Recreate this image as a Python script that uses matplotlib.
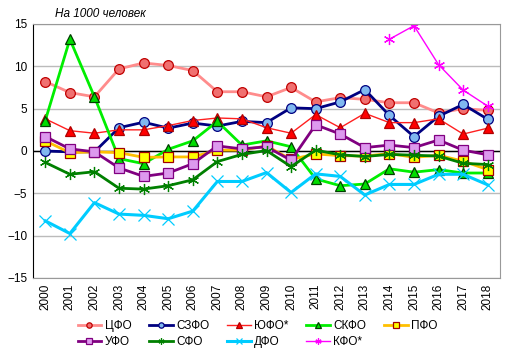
import numpy as np
import matplotlib
matplotlib.use("Agg")
import matplotlib.pyplot as plt

plt.rcParams['font.family'] = ['Liberation Sans', 'DejaVu Sans']
plt.rcParams['font.size'] = 8.5

years = list(range(2000, 2019))

cfo = [8.2, 6.9, 6.4, 9.7, 10.4, 10.1, 9.5, 7.0, 7.0, 6.4, 7.5, 5.8, 6.3, 6.1, 5.7, 5.7, 4.5, 5.0, 4.8]
szfo = [0.0, -0.1, -0.1, 2.75, 3.4, 2.7, 3.3, 2.95, 3.5, 3.35, 5.1, 5.0, 5.8, 7.25, 4.2, 1.7, 4.1, 5.5, 3.75]
yufo = [3.8, 2.4, 2.1, 2.5, 2.5, 3.0, 3.6, 3.9, 3.8, 2.75, 2.1, 4.3, 2.75, 4.45, 3.35, 3.35, 3.8, 2.0, 2.7]
skfo = [3.6, 13.2, 6.4, -0.9, -1.5, 0.2, 1.2, 3.5, 0.7, 1.2, 0.5, -3.3, -4.1, -3.9, -2.1, -2.5, -2.2, -2.6, -2.6]
pfo = [1.2, -0.2, -0.1, -0.2, -0.75, -0.7, -0.7, 0.1, 0.1, 0.6, -1.0, -0.35, -0.55, -0.6, -0.3, -0.75, -0.5, -1.2, -2.2]
ufo = [1.7, 0.25, -0.1, -2.0, -3.0, -2.6, -1.5, 0.6, 0.25, 0.5, -1.1, 3.1, 2.0, 0.4, 0.7, 0.4, 1.3, 0.1, -0.45]
sfo = [-1.35, -2.75, -2.45, -4.4, -4.5, -4.1, -3.4, -1.25, -0.4, 0.05, -1.85, 0.1, -0.45, -0.65, -0.4, -0.5, -0.6, -1.45, -1.6]
dfo = [-8.25, -9.75, -6.1, -7.45, -7.6, -8.0, -7.1, -3.6, -3.6, -2.55, -4.9, -2.7, -3.0, -5.2, -3.95, -3.95, -2.75, -2.75, -4.0]
kfo_years = [2014, 2015, 2016, 2017, 2018]
kfo = [13.2, 14.8, 10.2, 7.2, 5.3]

x = np.arange(len(years))
kx = [years.index(y) for y in kfo_years]

asterisk = (6, 2, 0)

series = [
    ('ЦФО', x, cfo, dict(color='#FF8C8C', lw=2, marker='o', mfc='#F07070', mec='#C00000')),
    ('СЗФО', x, szfo, dict(color='#000080', lw=2, marker='o', mfc='#80B8F0', mec='#000080')),
    ('ЮФО*', x, yufo, dict(color='#FF2020', lw=1, marker='^', mfc='#FF0000', mec='#B00000')),
    ('СКФО', x, skfo, dict(color='#00EE00', lw=2, marker='^', mfc='#00DD00', mec='#004000')),
    ('ПФО', x, pfo, dict(color='#FFC000', lw=2, marker='s', mfc='#FFFF00', mec='#A00000')),
    ('УФО', x, ufo, dict(color='#800080', lw=2, marker='s', mfc='#DD99EE', mec='#800080')),
    ('СФО', x, sfo, dict(color='#008000', lw=2, marker=asterisk, mfc='#008000', mec='#008000')),
    ('ДФО', x, dfo, dict(color='#00CCFF', lw=2.2, marker='x', mfc='#00CCFF', mec='#00CCFF')),
    ('КФО*', kx, kfo, dict(color='#FF00FF', lw=1, marker=asterisk, mfc='#FF00FF', mec='#FF00FF')),
]

fig = plt.figure(figsize=(5.15, 3.55), dpi=100)
ax = fig.add_axes([33 / 515, 1 - 278 / 355, 467 / 515, 254 / 355])

lines = []
for name, xs, ys, st in series:
    ms = 7 if st['marker'] in ('o', 's', '^') else 8
    ln, = ax.plot(xs, ys, label=name, ms=ms, mew=0.9, **st)
    lines.append(ln)

ax.set_xlim(-0.5, len(years) - 0.5)
ax.set_ylim(-15, 15)
ax.set_yticks([-15, -10, -5, 0, 5, 10, 15])
ax.set_xticks(x)
ax.set_xticklabels([str(y) for y in years], rotation=90)
ax.tick_params(length=0, pad=4)
ax.grid(axis='y', color='#BBBBBB', lw=1)
ax.set_axisbelow(True)
ax.axhline(0, color='black', lw=1, zorder=1.5)
for s in ['top', 'right', 'bottom']:
    ax.spines[s].set_color('#999999')
ax.spines['left'].set_color('black')

fig.text(55 / 515, 1 - 14 / 355, 'На 1000 человек', style='italic', fontsize=8.5, va='center')

# legend filled row by row: 5 on top, 4 below
order = [0, 5, 1, 6, 2, 7, 3, 8, 4]
fig.legend([lines[i] for i in order], [series[i][0] for i in order],
           loc='center', bbox_to_anchor=(0.5, 1 - 334 / 355), ncol=5, frameon=False,
           markerscale=0.55, handlelength=2.0, handletextpad=0.3, columnspacing=1.5,
           labelspacing=0.4, fontsize=8.5)

fig.savefig('out.png', dpi=100)
